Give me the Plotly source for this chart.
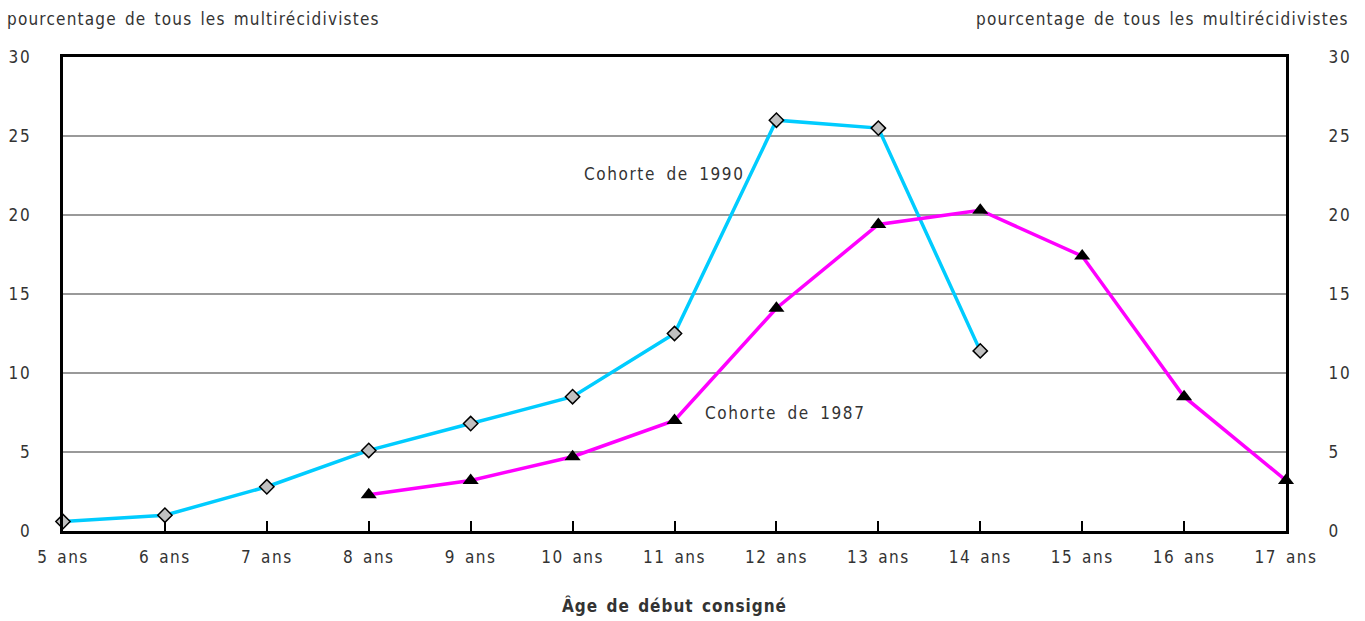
import plotly.graph_objects as go

ages = [5, 6, 7, 8, 9, 10, 11, 12, 13, 14, 15, 16, 17]
age_labels = [f"{a} ans" for a in ages]

ages_1990 = [5, 6, 7, 8, 9, 10, 11, 12, 13, 14]
pct_1990 = [0.6, 1.0, 2.8, 5.1, 6.8, 8.5, 12.5, 26.0, 25.5, 11.4]

ages_1987 = [8, 9, 10, 11, 12, 13, 14, 15, 16, 17]
pct_1987 = [2.3, 3.2, 4.7, 7.0, 14.1, 19.4, 20.3, 17.4, 8.5, 3.2]

y_ticks = [0, 5, 10, 15, 20, 25, 30]

FONT = "DejaVu Sans Condensed, Liberation Sans Narrow, Arial Narrow, sans-serif"
TXT = "#333333"


def spaced(text, ls, ws=0):
    """Wrap text in a span with extra letter and word spacing."""
    return f'<span style="letter-spacing:{ls}px;word-spacing:{ws}px">{text}</span>'


fig = go.Figure()

fig.add_trace(go.Scatter(
    x=ages_1990, y=pct_1990, mode="lines+markers",
    line=dict(color="#00ccff", width=3.5),
    marker=dict(symbol="diamond", size=11, color="#c0c0c0",
                line=dict(color="#000000", width=1.5)),
    showlegend=False, cliponaxis=False,
))
fig.add_trace(go.Scatter(
    x=ages_1987, y=pct_1987, mode="lines+markers",
    line=dict(color="#ff00ff", width=3.5),
    marker=dict(symbol="triangle-up", size=14, color="#000000"),
    showlegend=False, cliponaxis=False,
))
# invisible trace carrying the right-hand axis
fig.add_trace(go.Scatter(x=[ages[0]], y=[0], yaxis="y2", mode="markers",
                         marker=dict(opacity=0), showlegend=False, hoverinfo="skip"))

fig.update_layout(
    width=1365, height=621,
    margin=dict(l=63, r=79, t=57, b=90),
    paper_bgcolor="white", plot_bgcolor="white",
    font=dict(family=FONT, size=17, color=TXT),
    xaxis=dict(
        range=[5, 17], tickvals=ages,
        ticktext=[spaced(t, 1.5, 2.5) for t in age_labels],
        showgrid=False, zeroline=False, automargin=False,
        showline=True, linecolor="black", linewidth=2.5, mirror=True,
        ticks="inside", ticklen=10, tickwidth=2, tickcolor="black",
        ticklabelstandoff=9,
        title=dict(text="<b>" + spaced("Âge de début consigné", 1, 2) + "</b>", standoff=34,
                   font=dict(family=FONT, size=17, color=TXT)),
    ),
    yaxis=dict(
        range=[0, 30], tickvals=y_ticks,
        ticktext=[spaced(str(v), 2) for v in y_ticks],
        showgrid=True, gridcolor="#999999", gridwidth=2, automargin=False,
        zeroline=False, showline=True, linecolor="black", linewidth=2.5,
        mirror=True, ticks="", ticklabelstandoff=25,
    ),
    yaxis2=dict(
        range=[0, 30], tickvals=y_ticks, overlaying="y", side="right",
        ticktext=[spaced(str(v), 2) for v in y_ticks],
        showgrid=False, zeroline=False, showline=False, automargin=False,
        ticks="outside", ticklen=38, tickcolor="rgba(0,0,0,0)",
    ),
    annotations=[
        dict(text=spaced("pourcentage de tous les multirécidivistes", 1.2, 2),
             xref="paper", yref="paper",
             x=-58 / 1223, y=1 + 38 / 474, xanchor="left", yanchor="middle",
             showarrow=False, font=dict(size=17)),
        dict(text=spaced("pourcentage de tous les multirécidivistes", 1.2, 2),
             xref="paper", yref="paper",
             x=1 + 65 / 1223, y=1 + 38 / 474, xanchor="right", yanchor="middle",
             showarrow=False, font=dict(size=17)),
        dict(text=spaced("Cohorte de 1990", 1.6, 4), x=10.09, y=22.6,
             xanchor="left", yanchor="middle", showarrow=False, font=dict(size=17)),
        dict(text=spaced("Cohorte de 1987", 1.6, 4), x=11.28, y=7.47,
             xanchor="left", yanchor="middle", showarrow=False, font=dict(size=17)),
    ],
)

fig.write_html("out.html")
